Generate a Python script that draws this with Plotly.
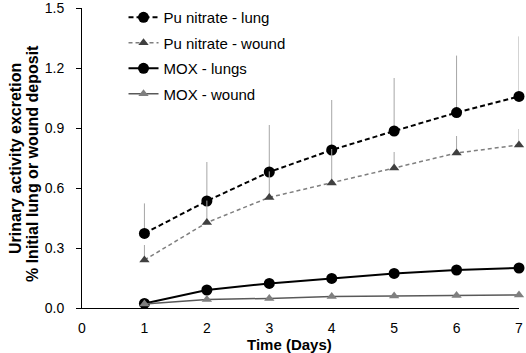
import plotly.graph_objects as go

days = [1, 2, 3, 4, 5, 6, 7]
pu_lung = [0.373, 0.535, 0.68, 0.79, 0.885, 0.977, 1.058]
pu_lung_err = [0.15, 0.195, 0.235, 0.25, 0.265, 0.285, 0.30]
pu_wound = [0.24, 0.427, 0.553, 0.625, 0.70, 0.775, 0.815]
pu_wound_err = [0.075, 0.11, 0.13, 0.17, 0.08, 0.085, 0.08]
mox_lung = [0.023, 0.09, 0.123, 0.148, 0.173, 0.19, 0.20]
mox_wound = [0.02, 0.043, 0.048, 0.057, 0.06, 0.062, 0.065]

xticks = [0, 1, 2, 3, 4, 5, 6, 7]
yticks = [0.0, 0.3, 0.6, 0.9, 1.2, 1.5]
ytick_labels = ["0.0", "0.3", "0.6", "0.9", "1.2", "1.5"]
ytitle_lines = ["Urinary activity excretion", "% Initial lung or wound deposit"]
xtitle = "Time (Days)"

font = "Liberation Sans, Arial, sans-serif"
errc = "#a6a6a6"

fig = go.Figure()
fig.add_trace(go.Scatter(
    x=days, y=pu_lung, name="Pu nitrate - lung", mode="lines+markers", legendgroup="a",
    line=dict(color="black", dash="5px,3px", width=2),
    marker=dict(symbol="circle", size=11, color="black"),
    error_y=dict(type="data", array=pu_lung_err, arrayminus=[0]*7, color=errc, thickness=1, width=0),
    cliponaxis=False))
fig.add_trace(go.Scatter(
    x=days, y=pu_wound, name="Pu nitrate - wound", mode="lines+markers", legendgroup="b",
    line=dict(color="#7f7f7f", dash="4px,3px", width=1.5),
    marker=dict(symbol="triangle-up", size=9, color="#404040"),
    error_y=dict(type="data", array=pu_wound_err, arrayminus=[0]*7, color=errc, thickness=1, width=0),
    cliponaxis=False))
fig.add_trace(go.Scatter(
    x=days, y=mox_lung, name="MOX - lungs", mode="lines+markers", legendgroup="c",
    line=dict(color="black", width=2),
    marker=dict(symbol="circle", size=11, color="black"),
    cliponaxis=False))
fig.add_trace(go.Scatter(
    x=days, y=mox_wound, name="MOX - wound", mode="lines+markers", legendgroup="d",
    line=dict(color="#595959", width=1.5),
    marker=dict(symbol="triangle-up", size=9, color="#7f7f7f"),
    cliponaxis=False))

fig.update_layout(
    width=526, height=353,
    margin=dict(l=82, r=7, t=8, b=45, autoexpand=False),
    plot_bgcolor="white", paper_bgcolor="white",
    font=dict(family=font, size=15, color="black"),
    showlegend=True,
    legend=dict(x=0.095, y=1.023, xanchor="left", yanchor="top", bgcolor="rgba(0,0,0,0)",
                font=dict(size=15), tracegroupgap=3, itemwidth=30),
)
fig.update_xaxes(
    range=[0, 7], tickvals=xticks, ticks="", showgrid=False, zeroline=False,
    showline=True, linecolor="black", linewidth=1, ticklabeloverflow="allow",
    ticklabelstandoff=7, tickfont=dict(size=14))
fig.update_yaxes(
    range=[0, 1.5], tickvals=yticks, ticktext=ytick_labels, ticks="outside", ticklen=5,
    tickcolor="black", showgrid=False, zeroline=False, ticklabeloverflow="allow",
    showline=True, linecolor="black", linewidth=1, ticklabelstandoff=9,
    tickfont=dict(size=14))

fig.add_annotation(text="<b>" + ytitle_lines[0] + "</b>", xref="paper", yref="paper",
                   x=0, y=0.5, xanchor="center", yanchor="middle", textangle=-90,
                   xshift=-67, yshift=-1, showarrow=False, font=dict(size=16))
fig.add_annotation(text="<b>" + ytitle_lines[1] + "</b>", xref="paper", yref="paper",
                   x=0, y=0.5, xanchor="center", yanchor="middle", textangle=-90,
                   xshift=-50, yshift=-6, showarrow=False, font=dict(size=16))
fig.add_annotation(text="<b>" + xtitle + "</b>", xref="paper", yref="paper",
                   x=(289 - 82) / 437, y=0, xanchor="center", yanchor="middle",
                   yshift=-(344 - 308), showarrow=False, font=dict(size=15))

fig.write_html("out.html", config={"displayModeBar": False},
               post_script="document.body.style.margin='0';")
